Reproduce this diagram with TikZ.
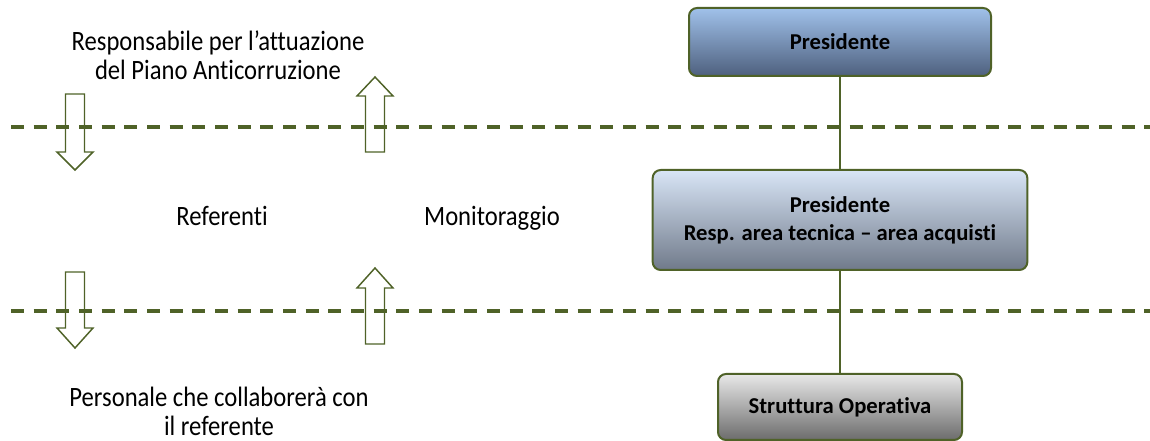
\documentclass[tikz,border=0pt]{standalone}
\usepackage{fontspec}
\setmainfont{Carlito}[Ligatures=NoCommon]
\newfontfamily\labelfont{Carlito}[FakeStretch=0.88,Ligatures=NoCommon]
\definecolor{leafgreen}{RGB}{79,98,40}
\begin{document}
\begin{tikzpicture}[x=0.75pt,y=-0.75pt,
 boxstyle/.style={draw=leafgreen,line width=1.5pt,rounded corners=6pt,align=center,inner sep=0pt,
   font=\fontsize{17}{21}\selectfont\bfseries},
 labelstyle/.style={align=center,inner sep=0pt,font=\labelfont\fontsize{21}{21.75}\selectfont},
 dashline/.style={draw=leafgreen,line width=3pt,dash pattern=on 9.75pt off 7.25pt},
 blockarrow/.style={draw=leafgreen,line width=1.1pt,line join=miter},
 linkline/.style={draw=leafgreen,line width=0.9pt}]
\useasboundingbox (0,0) rectangle (1150,441);

% separators
\foreach \y in {127,311}
 \draw[dashline] (11,\y) -- (1150,\y);

% block arrows: x / tail / head base / tip
\foreach \x/\ya/\yb/\yc in {75/94/152/170,75/272/328/348,375/152/96/77,375/344/288/268}
 \draw[blockarrow] (\x-9.5,\ya) -- (\x+9.5,\ya) -- (\x+9.5,\yb) -- (\x+18,\yb)
  -- (\x,\yc) -- (\x-18,\yb) -- (\x-9.5,\yb) -- cycle;

% left column texts
\node[labelstyle](resp) at (218,55) {Responsabile per l’attuazione\\del Piano Anticorruzione};
\node[labelstyle,anchor=base](ref) at (222,226) {Referenti};
\node[labelstyle,anchor=base](mon) at (492,226) {Monitoraggio};
\node[labelstyle](pers) at (219,411) {Personale che collaborerà con\\il referente};

% right column boxes
\node[boxstyle,top color={rgb,255:red,160;green,193;blue,234},bottom color={rgb,255:red,78;green,96;blue,126},
 minimum width=226.5pt,minimum height=51pt](pres) at (840,42) {Presidente};
\node[boxstyle,top color={rgb,255:red,216;green,229;blue,246},bottom color={rgb,255:red,112;green,122;blue,138},
 minimum width=281pt,minimum height=75pt](resptec) at (840,220) {Presidente\\Resp. area tecnica – area acquisti};
\node[boxstyle,top color={rgb,255:red,232;green,232;blue,232},bottom color={rgb,255:red,108;green,108;blue,108},
 minimum width=183pt,minimum height=49.5pt](strut) at (840,407) {Struttura Operativa};

\draw[linkline] (pres) -- (resptec);
\draw[linkline] (resptec) -- (strut);
\end{tikzpicture}
\end{document}
